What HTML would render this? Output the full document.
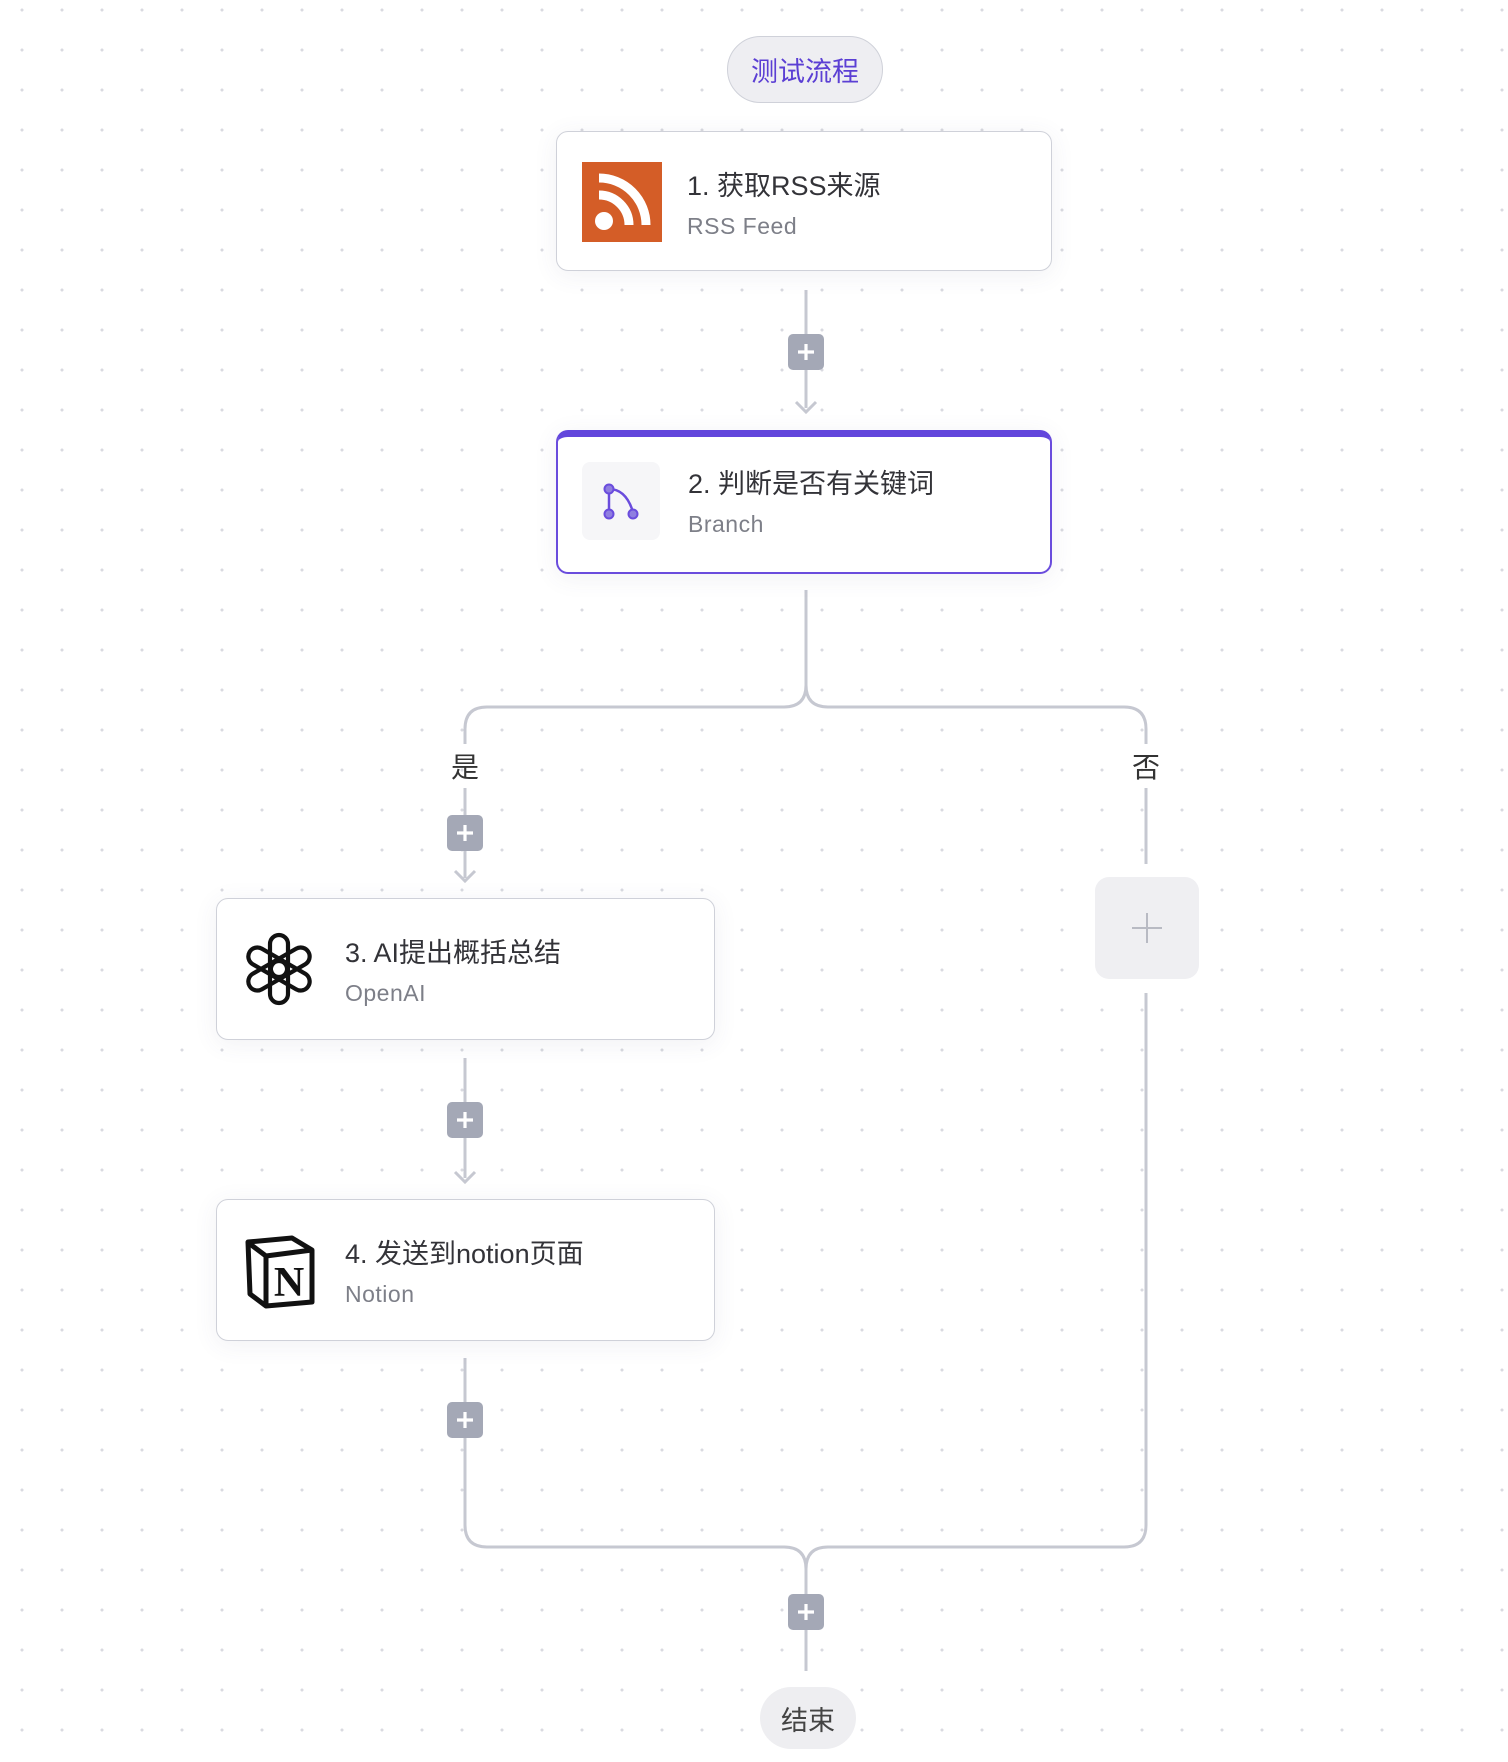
<!DOCTYPE html>
<html><head><meta charset="utf-8">
<style>
html,body{margin:0;padding:0;}
body{width:1508px;height:1762px;position:relative;overflow:hidden;background:#fff;
background-image:radial-gradient(circle,#d9dae0 1.4px,transparent 1.6px);
background-size:40px 40px;background-position:2px -10px;
font-family:"Liberation Sans","Noto Sans CJK SC",sans-serif;}
.card{position:absolute;left:556px;width:496px;height:140px;background:#fff;border:1.5px solid #cfd1d9;border-radius:12px;box-sizing:border-box;box-shadow:0 4px 24px rgba(80,80,110,0.08);}
.card .t{position:absolute;left:130px;top:32px;font-size:27px;color:#333338;white-space:nowrap;}
.card .s{position:absolute;left:130px;top:81px;font-size:23px;color:#7d7f88;letter-spacing:0.5px;white-space:nowrap;}
.ic{position:absolute;left:25px;top:30px;width:80px;height:80px;}
.pill{position:absolute;border-radius:40px;display:flex;align-items:center;justify-content:center;font-size:27px;}
svg.lines{position:absolute;left:0;top:0;}
</style></head><body>
<svg class="lines" width="1508" height="1762">
<g fill="none" stroke="#c6c8d1" stroke-width="3">
<path d="M806 290 V408"/>
<path d="M796 402 L806 412 L816 402"/>
<path d="M806 590 V685 Q806 707 784 707 H487 Q465 707 465 729 V744"/>
<path d="M806 685 Q806 707 828 707 H1124 Q1146 707 1146 729 V744"/>
<path d="M465 788 V878"/>
<path d="M455 871 L465 881 L475 871"/>
<path d="M465 1058 V1178"/>
<path d="M455 1172 L465 1182 L475 1172"/>
<path d="M1146 788 V864"/>
<path d="M465 1358 V1525 Q465 1547 487 1547 H784 Q806 1547 806 1569 V1671"/>
<path d="M1146 993 V1525 Q1146 1547 1124 1547 H828 Q806 1547 806 1569"/>
</g>
<g>
<rect x="788" y="334" width="36" height="36" rx="5" fill="#a4a8b6"/>
<rect x="447" y="815" width="36" height="36" rx="5" fill="#a4a8b6"/>
<rect x="447" y="1102" width="36" height="36" rx="5" fill="#a4a8b6"/>
<rect x="447" y="1402" width="36" height="36" rx="5" fill="#a4a8b6"/>
<rect x="788" y="1594" width="36" height="36" rx="5" fill="#a4a8b6"/>
</g>
<g stroke="#fff" stroke-width="3.2">
<path d="M806 344 V360 M798 352 H814"/>
<path d="M465 825 V841 M457 833 H473"/>
<path d="M465 1112 V1128 M457 1120 H473"/>
<path d="M465 1412 V1428 M457 1420 H473"/>
<path d="M806 1604 V1620 M798 1612 H814"/>
</g>
<rect x="1095" y="877" width="104" height="102" rx="14" fill="#efeff2"/>
<path d="M1147 913 V943 M1132 928 H1162" stroke="#b8bac3" stroke-width="2"/>
</svg>

<div class="pill" style="left:727px;top:36px;width:156px;height:67px;background:#eeeef2;border:1.5px solid #cfd1d9;box-sizing:border-box;color:#5b3fd4;">测试流程</div>

<div class="card" style="top:131px;">
  <svg class="ic" viewBox="0 0 80 80" style="left:25px;top:30px;">
    <rect width="80" height="80" fill="#d45d27"/>
    <circle cx="22" cy="59" r="9" fill="#fff"/>
    <path d="M17 33 A30 30 0 0 1 47 63" stroke="#fff" stroke-width="9" fill="none"/>
    <path d="M17 16 A47 47 0 0 1 64 63" stroke="#fff" stroke-width="9" fill="none"/>
  </svg>
  <div class="t">1. 获取RSS来源</div>
  <div class="s">RSS Feed</div>
</div>

<div class="card" style="top:430px;height:144px;border:2px solid #6a4cdd;border-top:7px solid #6246dc;">
  <div class="ic" style="left:24px;top:25px;width:78px;height:78px;background:#f6f6f8;border-radius:8px;">
    <svg viewBox="0 0 78 78" width="78" height="78">
      <path d="M27 27 V52 M27 27 Q44 27 51 50" stroke="#6a4cdd" stroke-width="2.5" fill="none"/>
      <circle cx="27" cy="27" r="4.5" fill="#8f7ee0" stroke="#6a4cdd" stroke-width="2"/>
      <circle cx="27" cy="52" r="4.5" fill="#8f7ee0" stroke="#6a4cdd" stroke-width="2"/>
      <circle cx="51" cy="52" r="4.5" fill="#8f7ee0" stroke="#6a4cdd" stroke-width="2"/>
    </svg>
  </div>
  <div class="t" style="top:25px;">2. 判断是否有关键词</div>
  <div class="s" style="top:74px;">Branch</div>
</div>

<div style="position:absolute;left:451px;top:746px;font-size:28px;color:#333;">是</div>
<div style="position:absolute;left:1132px;top:746px;font-size:28px;color:#333;">否</div>

<div class="card" style="left:216px;top:898px;width:499px;height:142px;">
  <svg class="ic" viewBox="0 0 80 80" style="left:22px;top:30px;">
    <g fill="none" stroke="#111" stroke-width="4.2" transform="translate(40 40)">
      <rect x="-9" y="-34" width="18" height="42" rx="9" transform="rotate(0)"/>
      <rect x="-9" y="-34" width="18" height="42" rx="9" transform="rotate(60)"/>
      <rect x="-9" y="-34" width="18" height="42" rx="9" transform="rotate(120)"/>
      <rect x="-9" y="-34" width="18" height="42" rx="9" transform="rotate(180)"/>
      <rect x="-9" y="-34" width="18" height="42" rx="9" transform="rotate(240)"/>
      <rect x="-9" y="-34" width="18" height="42" rx="9" transform="rotate(300)"/>
    </g>
  </svg>
  <div class="t" style="left:128px;">3. AI提出概括总结</div>
  <div class="s" style="left:128px;">OpenAI</div>
</div>

<div class="card" style="left:216px;top:1199px;width:499px;height:142px;">
  <svg class="ic" viewBox="0 0 80 80" style="left:25px;top:32px;">
    <path d="M6 10 L50 6 L70 18 L70 70 L24 74 L8 62 Z" fill="#fff" stroke="#111" stroke-width="5" stroke-linejoin="round"/>
    <path d="M8 12 L24 24 L70 18 M24 24 V74" fill="none" stroke="#111" stroke-width="5"/>
    <text x="47" y="64" font-family="Liberation Serif,serif" font-weight="bold" font-size="42" text-anchor="middle" fill="#111">N</text>
  </svg>
  <div class="t" style="left:128px;">4. 发送到notion页面</div>
  <div class="s" style="left:128px;">Notion</div>
</div>

<div class="pill" style="left:760px;top:1687px;width:96px;height:62px;background:#eeeef1;color:#444;font-size:27px;">结束</div>
</body></html>
